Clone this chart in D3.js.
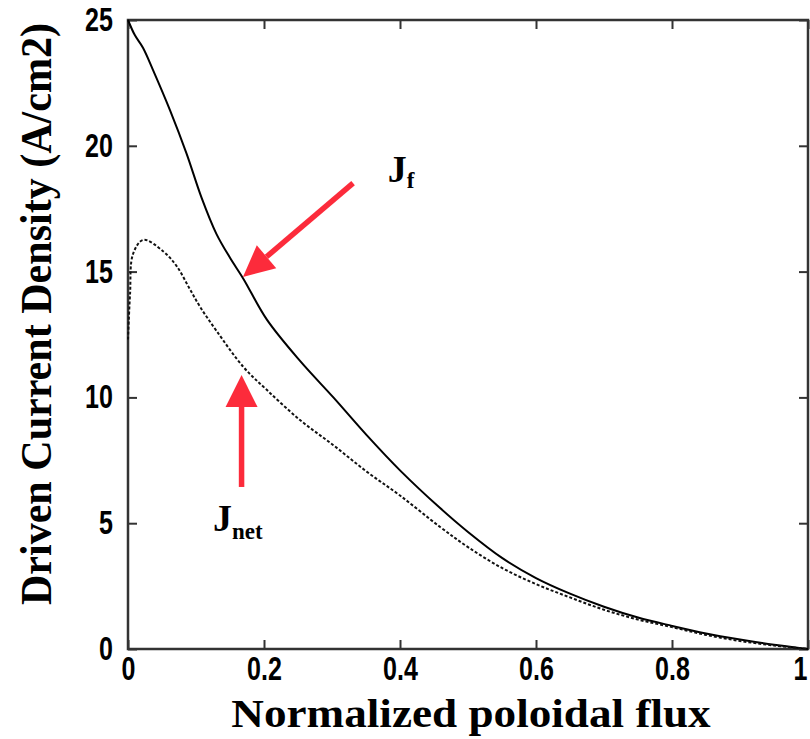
<!DOCTYPE html>
<html>
<head>
<meta charset="utf-8">
<script src="https://cdn.jsdelivr.net/npm/d3@7"></script>
<style>
  body { margin: 0; background: #fff; }
  .tick text { font-family: "Liberation Sans", Arial, sans-serif; font-weight: bold; }
  .axis-title, .ann { font-family: "Liberation Serif", "Times New Roman", serif; font-weight: bold; }
</style>
</head>
<body>
<svg id="chart"></svg>
<script>
// Driven current density profiles
const fluxF = [0, 0.01, 0.022, 0.037, 0.062, 0.086, 0.108, 0.13, 0.15, 0.17, 0.204, 0.253, 0.302, 0.351, 0.4, 0.459, 0.5, 0.55, 0.6, 0.65, 0.7, 0.75, 0.8, 0.85, 0.9, 0.95, 1.0];
const jF =    [25.0, 24.4, 23.9, 23.0, 21.4, 19.7, 17.95, 16.5, 15.55, 14.7, 13.1, 11.45, 10.0, 8.5, 7.1, 5.6, 4.65, 3.62, 2.82, 2.2, 1.68, 1.25, 0.92, 0.62, 0.38, 0.17, 0.0];

const fluxNet = [0, 0.003, 0.0074, 0.0225, 0.052, 0.072, 0.09, 0.106, 0.13, 0.17, 0.204, 0.253, 0.302, 0.351, 0.4, 0.459, 0.5, 0.55, 0.6, 0.65, 0.7, 0.75, 0.8, 0.85, 0.9, 0.95, 1.0];
const jNet =    [12.3, 14.1, 15.7, 16.26, 15.8, 15.2, 14.35, 13.6, 12.65, 11.2, 10.3, 9.1, 8.1, 7.05, 6.1, 4.85, 4.05, 3.22, 2.58, 2.05, 1.56, 1.17, 0.87, 0.56, 0.32, 0.14, 0.0];

const xTicks = [0, 0.2, 0.4, 0.6, 0.8, 1];
const yTicks = [0, 5, 10, 15, 20, 25];

// annotation arrows: [tailX, tailY, tipX, tipY] in data units
const arrowF = [0.331, 18.52, 0.169, 14.79];
const arrowNet = [0.167, 6.44, 0.167, 10.89];

const width = 810, height = 739;
const margin = {top: 20, right: 2, bottom: 90, left: 128};

const x = d3.scaleLinear().domain([0, 1]).range([margin.left, width - margin.right]);
const y = d3.scaleLinear().domain([0, 25]).range([height - margin.bottom, margin.top]);

const svg = d3.select("#chart").attr("width", width).attr("height", height);

const frameColor = "#333";
const squeeze = 0.76; // tick labels use a narrow look

// frame
svg.append("rect")
   .attr("x", x(0)).attr("y", y(25))
   .attr("width", x(1) - x(0)).attr("height", y(0) - y(25))
   .attr("fill", "none").attr("stroke", frameColor).attr("stroke-width", 2.5);

const fmtX = d => d === 0 ? "0" : d === 1 ? "1" : d3.format(".1f")(d);

// bottom axis with labels, ticks pointing inward
const gx = svg.append("g")
   .attr("transform", `translate(0,${y(0)})`)
   .call(d3.axisBottom(x).tickValues(xTicks).tickFormat(fmtX).tickSizeInner(-9).tickSizeOuter(0).tickPadding(8));
gx.select(".domain").remove();
gx.selectAll(".tick line").attr("stroke", frameColor).attr("stroke-width", 2);
gx.selectAll(".tick text").attr("font-size", 33).attr("fill", "#000")
   .attr("transform", `scale(${squeeze},1)`);
// keep the last label inside the picture
gx.selectAll(".tick text").filter(d => d === 1).attr("text-anchor", "end").attr("x", -1 / squeeze);

// top axis, ticks only
const gxt = svg.append("g")
   .attr("transform", `translate(0,${y(25)})`)
   .call(d3.axisTop(x).tickValues(xTicks).tickFormat("").tickSizeInner(-9).tickSizeOuter(0));
gxt.select(".domain").remove();
gxt.selectAll(".tick line").attr("stroke", frameColor).attr("stroke-width", 2);

// left axis with labels
const gy = svg.append("g")
   .attr("transform", `translate(${x(0)},0)`)
   .call(d3.axisLeft(y).tickValues(yTicks).tickSizeInner(-9).tickSizeOuter(0).tickPadding(15));
gy.select(".domain").remove();
gy.selectAll(".tick line").attr("stroke", frameColor).attr("stroke-width", 2);
gy.selectAll(".tick text").attr("font-size", 33).attr("fill", "#000")
   .attr("x", -15 / squeeze)
   .attr("transform", `scale(${squeeze},1)`);

// right axis, ticks only
const gyr = svg.append("g")
   .attr("transform", `translate(${x(1)},0)`)
   .call(d3.axisRight(y).tickValues(yTicks).tickFormat("").tickSizeInner(-9).tickSizeOuter(0));
gyr.select(".domain").remove();
gyr.selectAll(".tick line").attr("stroke", frameColor).attr("stroke-width", 2);

// curves
const line = d3.line().x(d => x(d[0])).y(d => y(d[1])).curve(d3.curveCatmullRom.alpha(0.5));

svg.append("path")
   .datum(d3.zip(fluxF, jF))
   .attr("d", line)
   .attr("fill", "none").attr("stroke", "#000").attr("stroke-width", 2);

svg.append("path")
   .datum(d3.zip(fluxNet, jNet))
   .attr("d", line)
   .attr("fill", "none").attr("stroke", "#111").attr("stroke-width", 2)
   .attr("stroke-dasharray", "3,2");

// red arrows
const red = "#fc2b3b";
function drawArrow(a, headLen, headHalf) {
    const x1 = x(a[0]), y1 = y(a[1]), x2 = x(a[2]), y2 = y(a[3]);
    const ang = Math.atan2(y2 - y1, x2 - x1);
    const bx = x2 - headLen * Math.cos(ang), by = y2 - headLen * Math.sin(ang);
    svg.append("line")
       .attr("x1", x1).attr("y1", y1).attr("x2", bx).attr("y2", by)
       .attr("stroke", red).attr("stroke-width", 5.5);
    const px = -Math.sin(ang) * headHalf, py = Math.cos(ang) * headHalf;
    svg.append("polygon")
       .attr("points", [[x2, y2], [bx + px, by + py], [bx - px, by - py]].map(p => p.join(",")).join(" "))
       .attr("fill", red);
}
drawArrow(arrowF, 31, 15);
drawArrow(arrowNet, 32, 16);

// labels J_f and J_net
const labF = svg.append("text").attr("class", "ann")
   .attr("x", x(0.382)).attr("y", y(18.55)).attr("font-size", 38);
labF.append("tspan").text("J");
labF.append("tspan").attr("font-size", 23).attr("dy", 6).text("f");

const labNet = svg.append("text").attr("class", "ann")
   .attr("x", x(0.125)).attr("y", y(4.7)).attr("font-size", 38);
labNet.append("tspan").text("J");
labNet.append("tspan").attr("font-size", 23).attr("dy", 8).text("net");

// axis titles (stretched to the reference's extent)
svg.append("text").attr("class", "axis-title")
   .attr("transform", "translate(471,727) scale(1.13,1)")
   .attr("text-anchor", "middle").attr("font-size", 40)
   .text("Normalized poloidal flux");

svg.append("text").attr("class", "axis-title")
   .attr("transform", "translate(51,314) rotate(-90) scale(0.935,1)")
   .attr("text-anchor", "middle").attr("font-size", 45)
   .text("Driven Current Density (A/cm2)");
</script>
</body>
</html>
